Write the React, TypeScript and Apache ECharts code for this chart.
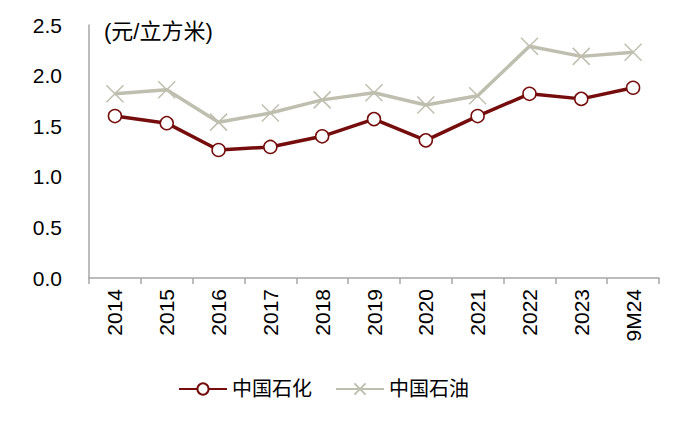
import React, { useEffect, useRef } from "react";
import * as echarts from "echarts";

const categories = ["2014", "2015", "2016", "2017", "2018", "2019", "2020", "2021", "2022", "2023", "9M24"];
const sinopec = [1.6, 1.53, 1.265, 1.295, 1.4, 1.57, 1.36, 1.6, 1.82, 1.77, 1.88];
const petrochina = [1.82, 1.86, 1.54, 1.63, 1.76, 1.83, 1.71, 1.8, 2.29, 2.19, 2.23];
const seriesNames = ["中国石化", "中国石油"];
const unitLabel = "(元/立方米)";

const FONT = "Liberation Sans, Arial, Noto Sans CJK SC, sans-serif";

export default function App() {
  const ref = useRef<HTMLDivElement>(null);
  useEffect(() => {
    if (!ref.current) return;
    const chart = echarts.init(ref.current, null, { renderer: "svg" });
    chart.setOption({
      animation: false,
      backgroundColor: "#fff",
      grid: { left: 89, right: 41, top: 25, bottom: 149 },
      graphic: [
        {
          type: "text",
          left: 104,
          top: 20,
          style: { text: unitLabel, font: `22px ${FONT}`, fill: "#000" },
        },
      ],
      legend: {
        top: 374,
        left: 173,
        itemWidth: 48,
        itemHeight: 14,
        itemGap: 23,
        textStyle: { fontSize: 20, fontFamily: FONT, color: "#000" },
        data: seriesNames,
      },
      xAxis: {
        type: "category",
        data: categories,
        boundaryGap: true,
        axisLine: { lineStyle: { color: "#a6a6a6", width: 1.5 } },
        axisTick: { show: true, length: 6, lineStyle: { color: "#a6a6a6", width: 1.5 } },
        axisLabel: { rotate: 90, fontSize: 21, fontFamily: FONT, color: "#000", margin: 11, interval: 0 },
      },
      yAxis: {
        type: "value",
        min: 0,
        max: 2.5,
        interval: 0.5,
        axisLine: { show: true, lineStyle: { color: "#a6a6a6", width: 1.5 } },
        axisTick: { show: false },
        splitLine: { show: false },
        axisLabel: {
          fontSize: 21,
          fontFamily: FONT,
          color: "#000",
          margin: 27,
          formatter: (v: number) => v.toFixed(1),
        },
      },
      series: [
        {
          name: seriesNames[0],
          type: "line",
          data: sinopec,
          symbol: "circle",
          symbolSize: 13,
          lineStyle: { color: "#760d0d", width: 3.5 },
          itemStyle: { color: "#ffffff", borderColor: "#760d0d", borderWidth: 1.5 },
          z: 3,
        },
        {
          name: seriesNames[1],
          type: "line",
          data: petrochina,
          symbol: "path://M0,0L10,10M10,0L0,10",
          symbolSize: 17,
          lineStyle: { color: "#bfbfb0", width: 3.5 },
          itemStyle: { color: "none", borderColor: "#bfbfb0", borderWidth: 1.5 },
          z: 2,
        },
      ],
    });
    return () => chart.dispose();
  }, []);
  return (
    <div
      ref={ref}
      style={{ position: "fixed", left: 0, top: 0, width: 700, height: 427 }}
    />
  );
}
